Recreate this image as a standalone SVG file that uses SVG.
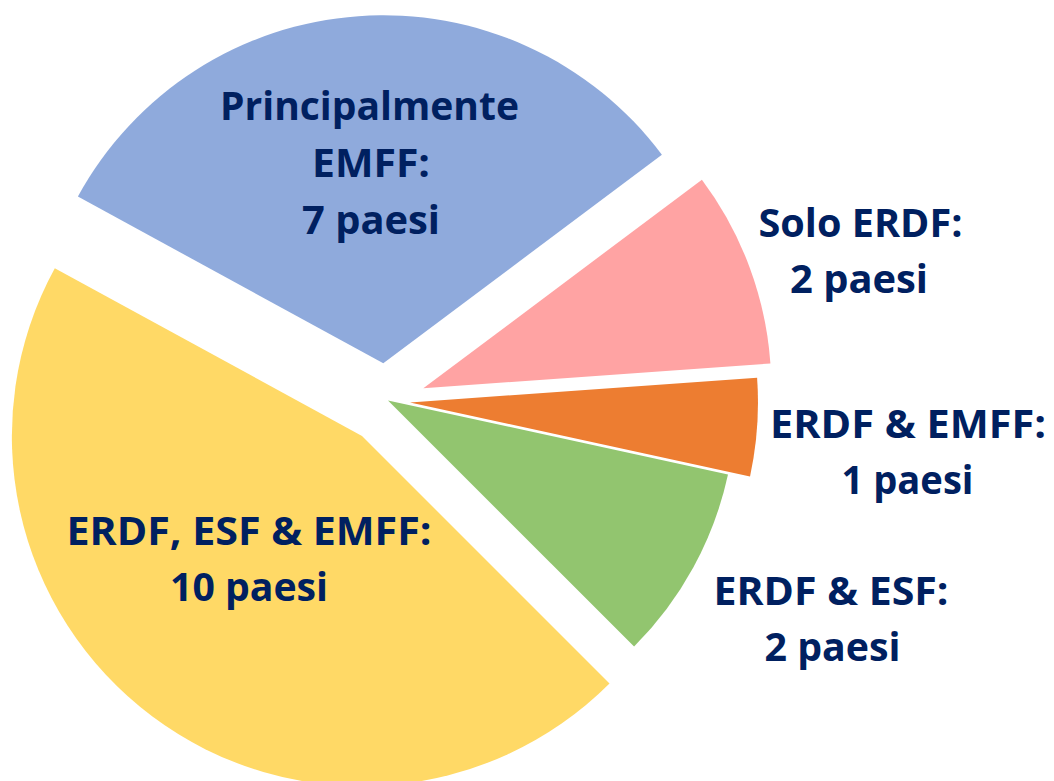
<svg xmlns="http://www.w3.org/2000/svg" width="1054" height="781" viewBox="0 0 1054 781">
<style>
.lbl{font-family:"Open Sans","Liberation Sans",sans-serif;font-weight:bold;font-size:39px;fill:#002060;text-anchor:middle}
</style>
<rect width="1054" height="781" fill="#ffffff"/>
<g id="slice-yellow"><path d="M362,436 L609.5,683.5 A350,350 0 0 1 54.8,268.2 Z" fill="#FFD966"/></g>
<g id="slice-blue"><path d="M383.3,363.3 L77.9,196.5 A348,348 0 0 1 661.9,154.7 Z" fill="#8FAADC"/></g>
<g id="slice-pink"><path d="M423.3,388.3 L701.9,179.7 A348,348 0 0 1 770.4,363.5 Z" fill="#FFA3A3"/></g>
<g id="slice-orange"><path d="M410,402.5 L757.1,377.7 A348,348 0 0 1 750,476.5 Z" fill="#ED7D31"/></g>
<g id="slice-green"><path d="M388,400.5 L728,474.5 A348,348 0 0 1 634.1,646.6 Z" fill="#92C56F"/></g>
<g id="label-blue">
<text class="lbl" x="369.5" y="120" textLength="299" lengthAdjust="spacingAndGlyphs">Principalmente</text>
<text class="lbl" x="371" y="177" textLength="118" lengthAdjust="spacingAndGlyphs">EMFF:</text>
<text class="lbl" x="371" y="234" textLength="138" lengthAdjust="spacingAndGlyphs">7 paesi</text>
</g>
<g id="label-pink">
<text class="lbl" x="860.5" y="237" textLength="204" lengthAdjust="spacingAndGlyphs">Solo ERDF:</text>
<text class="lbl" x="859" y="293" textLength="138" lengthAdjust="spacingAndGlyphs">2 paesi</text>
</g>
<g id="label-orange">
<text class="lbl" x="908" y="438" textLength="276" lengthAdjust="spacingAndGlyphs">ERDF &amp; EMFF:</text>
<text class="lbl" x="907.5" y="494" textLength="132" lengthAdjust="spacingAndGlyphs">1 paesi</text>
</g>
<g id="label-green">
<text class="lbl" x="831" y="605" textLength="235" lengthAdjust="spacingAndGlyphs">ERDF &amp; ESF:</text>
<text class="lbl" x="832.5" y="661" textLength="136" lengthAdjust="spacingAndGlyphs">2 paesi</text>
</g>
<g id="label-yellow">
<text class="lbl" x="249" y="545" textLength="365" lengthAdjust="spacingAndGlyphs">ERDF, ESF &amp; EMFF:</text>
<text class="lbl" x="249" y="601" textLength="158" lengthAdjust="spacingAndGlyphs">10 paesi</text>
</g>
<g id="connectors"></g>
</svg>
